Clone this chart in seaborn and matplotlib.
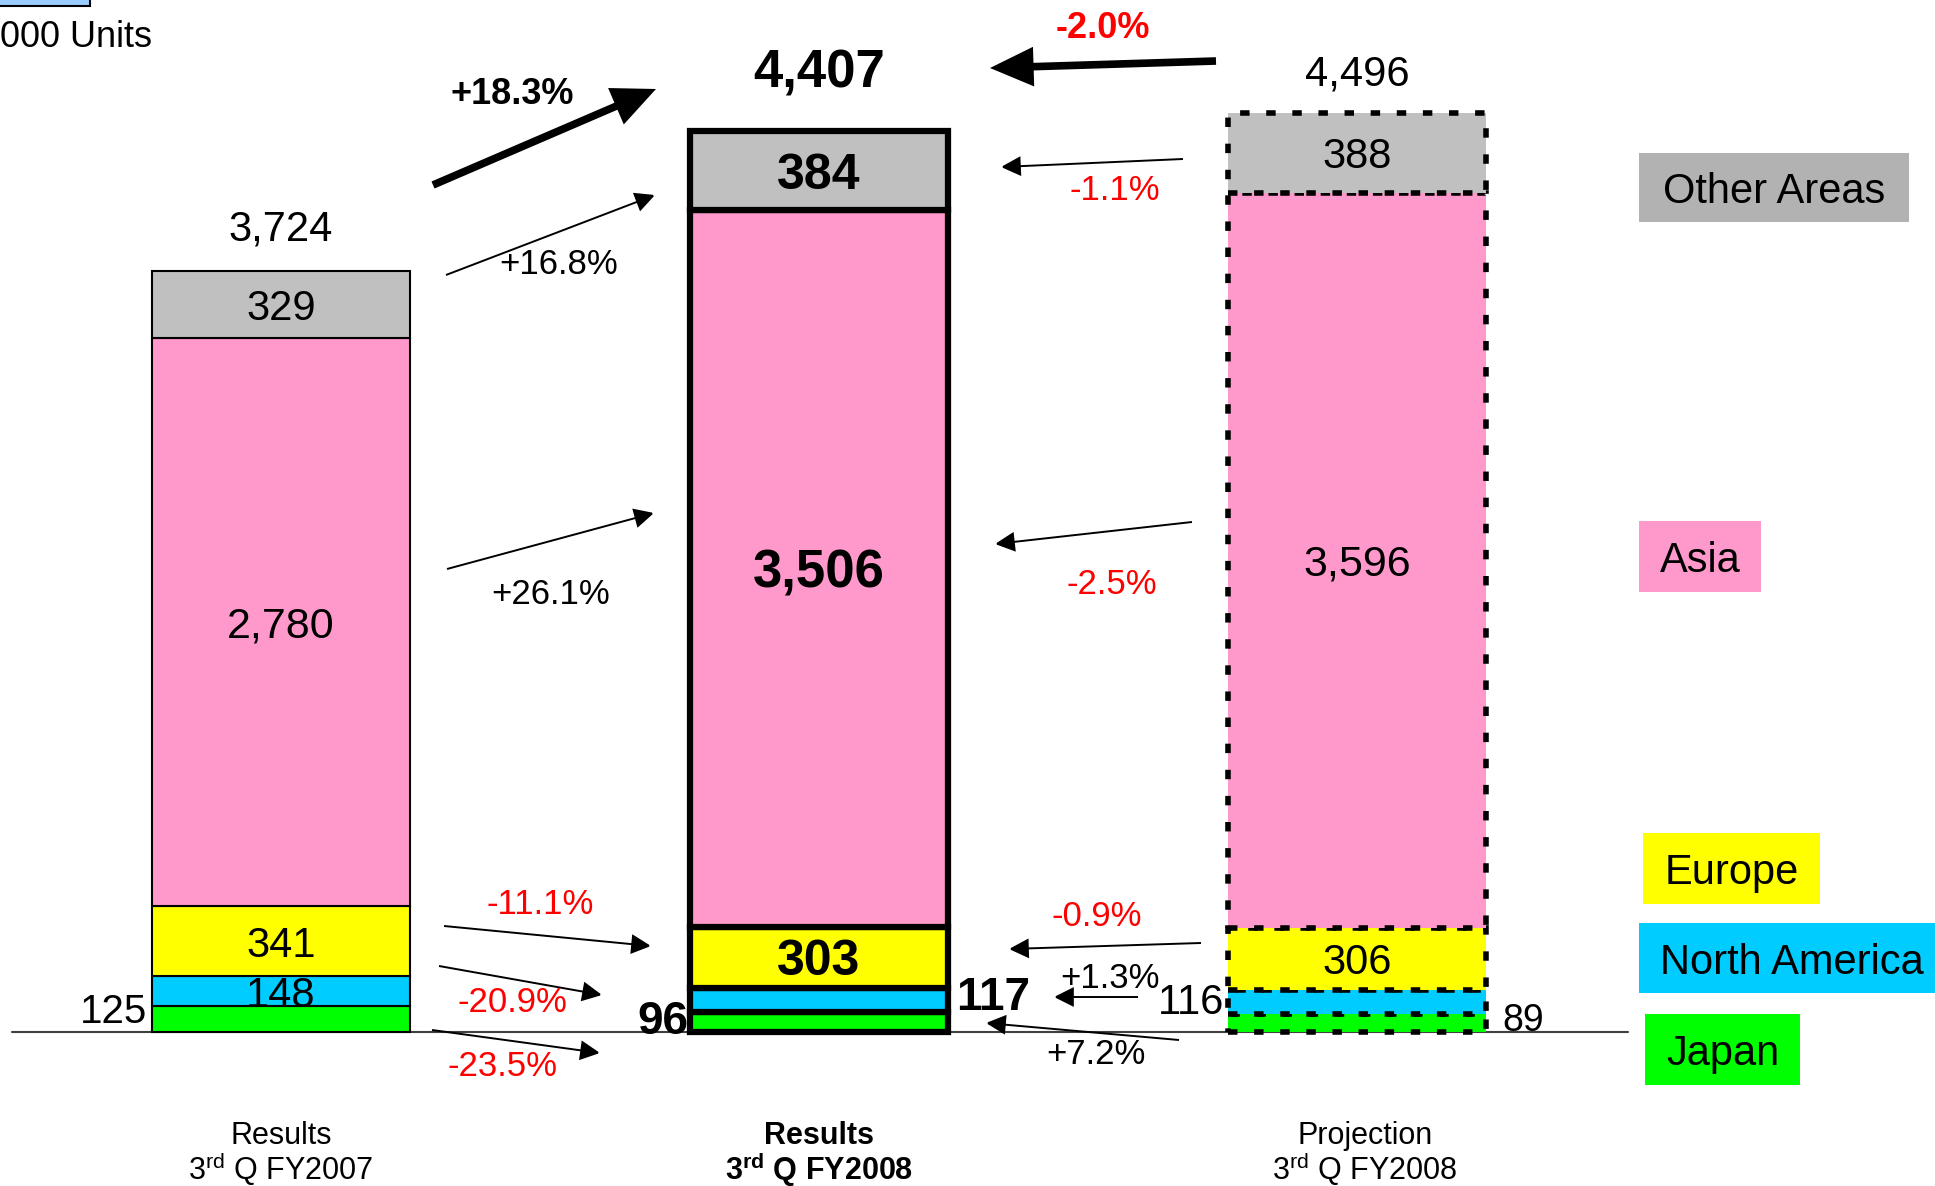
import matplotlib.patches as mpatches
import matplotlib.pyplot as plt
import numpy as np
import pandas as pd
import seaborn as sns

W, H = 1935, 1186

periods = ["Results 3rd Q FY2007", "Results 3rd Q FY2008", "Projection 3rd Q FY2008"]
regions = ["Japan", "North America", "Europe", "Asia", "Other Areas"]
japan = [125, 96, 89]
north_america = [148, 117, 116]
europe = [341, 303, 306]
asia = [2780, 3506, 3596]
other_areas = [329, 384, 388]
totals = [3724, 4407, 4496]
# change vs. last year (total, other, asia, europe, north america, japan)
yoy_change = ["+18.3%", "+16.8%", "+26.1%", "-11.1%", "-20.9%", "-23.5%"]
# change vs. projection
plan_change = ["-2.0%", "-1.1%", "-2.5%", "-0.9%", "+1.3%", "+7.2%"]

colors = {
    "Japan": "#00FF00",
    "North America": "#00CCFF",
    "Europe": "#FFFF00",
    "Asia": "#FF99CC",
    "Other Areas": "#C0C0C0",
}

df = pd.DataFrame(
    {
        "period": periods,
        "Japan": japan,
        "North America": north_america,
        "Europe": europe,
        "Asia": asia,
        "Other Areas": other_areas,
    }
)
bottoms = df[regions].cumsum(axis=1) - df[regions]

sns.set_theme(style="white")
plt.rcParams["font.family"] = ["Liberation Sans", "DejaVu Sans"]
plt.rcParams["text.color"] = "black"
plt.rcParams["mathtext.fontset"] = "custom"
plt.rcParams["mathtext.rm"] = "Liberation Sans"
plt.rcParams["mathtext.bf"] = "Liberation Sans:bold"

fig = plt.figure(figsize=(W / 100, H / 100), dpi=100)
ax = fig.add_axes([0, 0, 1, 1])


def px(x, y):
    return (x / W, 1 - y / H)


edge_styles = [
    dict(linewidth=1.5, linestyle="-"),
    dict(linewidth=4.5, linestyle="-"),
    dict(linewidth=4, linestyle=(0, (1.7, 3))),
]

for i, p in enumerate(periods):
    for r in regions:
        sns.barplot(
            x=[p],
            y=[df.loc[i, r]],
            order=periods,
            bottom=bottoms.loc[i, r],
            color=colors[r],
            saturation=1,
            width=0.48,
            edgecolor="black",
            errorbar=None,
            ax=ax,
            zorder=2,
            **edge_styles[i],
        )

ax.set_xlim(-281 / 538, (W - 281) / 538)
ax.set_ylim(-154 / 0.2044, 1032 / 0.2044)
ax.axis("off")

# baseline
ax.axhline(0, xmin=12 / W, xmax=1628 / W, color="#404040", lw=1.5, zorder=1)

# totals on top
total_offsets = [150, 215, 137]
total_size = [30, 38, 30]
total_weight = ["normal", "bold", "normal"]
for i, t in enumerate(totals):
    ax.text(i, t + total_offsets[i], f"{t:,}", ha="center", va="baseline",
            fontsize=total_size[i], fontweight=total_weight[i])

# labels inside the bars
inside = {0: ["North America", "Europe", "Asia", "Other Areas"],
          1: ["Europe", "Asia", "Other Areas"],
          2: ["Europe", "Asia", "Other Areas"]}
for i in range(3):
    for r in inside[i]:
        v = df.loc[i, r]
        y = bottoms.loc[i, r] + v / 2
        big = r == "Asia"
        if i == 1:
            fs, fw = (38 if big else 36), "bold"
        else:
            fs, fw = (31 if big else 30), "normal"
        ax.text(i, y, f"{v:,}", ha="center", va="center_baseline", fontsize=fs, fontweight=fw)

# labels outside the bars
ax.text(-0.249, 117, f"{japan[0]}", ha="right", va="center_baseline", fontsize=29)
ax.text(1.255, 191, f"{north_america[1]}", ha="left", va="center_baseline", fontsize=33, fontweight="bold")
ax.text(0.7565, 73, f"{japan[1]}", ha="right", va="center_baseline", fontsize=33, fontweight="bold")
ax.text(1.7528, 166, f"{north_america[2]}", ha="right", va="center_baseline", fontsize=30)
ax.text(2.2695, 73, f"{japan[2]}", ha="left", va="center_baseline", fontsize=27)

# category labels
cat_x = [0, 1, 2.015]
line1 = ["Results", "Results", "Projection"]
line2 = ["3$^{\\mathrm{rd}}$ Q FY2007", "3$^{\\mathbf{rd}}$ Q FY2008", "3$^{\\mathrm{rd}}$ Q FY2008"]
cat_weight = ["normal", "bold", "normal"]
trans = ax.get_xaxis_transform()
for i in range(3):
    ax.text(cat_x[i], 1 - 1144 / H, line1[i], transform=trans, ha="center", va="baseline",
            fontsize=22, fontweight=cat_weight[i])
    ax.text(cat_x[i], 1 - 1180 / H, line2[i], transform=trans, ha="center", va="baseline",
            fontsize=22, fontweight=cat_weight[i])


# arrows
def arrow(tail, tip, lw, hl, hw):
    a = mpatches.FancyArrowPatch(
        px(*tail), px(*tip), transform=fig.transFigure,
        arrowstyle=f"-|>,head_length={hl},head_width={hw}",
        lw=lw, color="black", shrinkA=0, shrinkB=0, mutation_scale=1,
        joinstyle="miter", capstyle="butt",
    )
    fig.add_artist(a)


yoy_arrows = [((433, 185), (656, 89)), ((446, 275), (655, 195)), ((447, 569), (654, 513)),
              ((444, 926), (651, 946)), ((439, 966), (602, 995)), ((432, 1030), (600, 1053))]
plan_arrows = [((1216, 61), (990, 68)), ((1183, 159), (1001, 167)), ((1192, 522), (995, 544)),
               ((1201, 943), (1009, 949)), ((1138, 997), (1054, 997)), ((1179, 1040), (986, 1023))]
yoy_text = [(512, 95), (559, 265), (551, 594), (540, 904), (512, 1002), (502, 1066)]
plan_text = [(1103, 29), (1115, 191), (1112, 585), (1097, 917), (1110, 978), (1096, 1055)]

for k in range(6):
    for arrows, texts, labels in [(yoy_arrows, yoy_text, yoy_change), (plan_arrows, plan_text, plan_change)]:
        tail, tip = arrows[k]
        if k == 0:
            arrow(tail, tip, 5.5, 22, 10)
        else:
            arrow(tail, tip, 1.4, 12, 6)
        col = "#FF0000" if labels[k].startswith("-") else "black"
        fig.text(*px(*texts[k]), labels[k], ha="center", va="center", color=col,
                 fontsize=26 if k == 0 else 25, fontweight="bold" if k == 0 else "normal")

# legend boxes
legend_boxes = [
    ("Other Areas", "#B2B2B2", (1639, 153, 1909, 222), "center"),
    ("Asia", colors["Asia"], (1639, 521, 1761, 592), "center"),
    ("Europe", colors["Europe"], (1643, 833, 1820, 904), "center"),
    ("North America", colors["North America"], (1639, 923, 1945, 993), "left"),
    ("Japan", colors["Japan"], (1645, 1014, 1800, 1085), "center"),
]
for name, c, (x0, y0, x1, y1), ha in legend_boxes:
    fig.add_artist(mpatches.Rectangle(px(x0, y1), (x1 - x0) / W, (y1 - y0) / H,
                                      transform=fig.transFigure, facecolor=c, edgecolor="none"))
    tx = (x0 + x1) / 2 if ha == "center" else x0 + 21
    fig.text(*px(tx, (y0 + y1) / 2), name, ha=ha, va="center_baseline", fontsize=30)

# unit note
fig.add_artist(mpatches.Rectangle(px(-5, 6), 95 / W, 12 / H, transform=fig.transFigure,
                                  facecolor="#99CCFF", edgecolor="black", lw=1.5))
fig.text(*px(0, 47), "000 Units", ha="left", va="baseline", fontsize=26)

plt.savefig("out.png", dpi=100)
